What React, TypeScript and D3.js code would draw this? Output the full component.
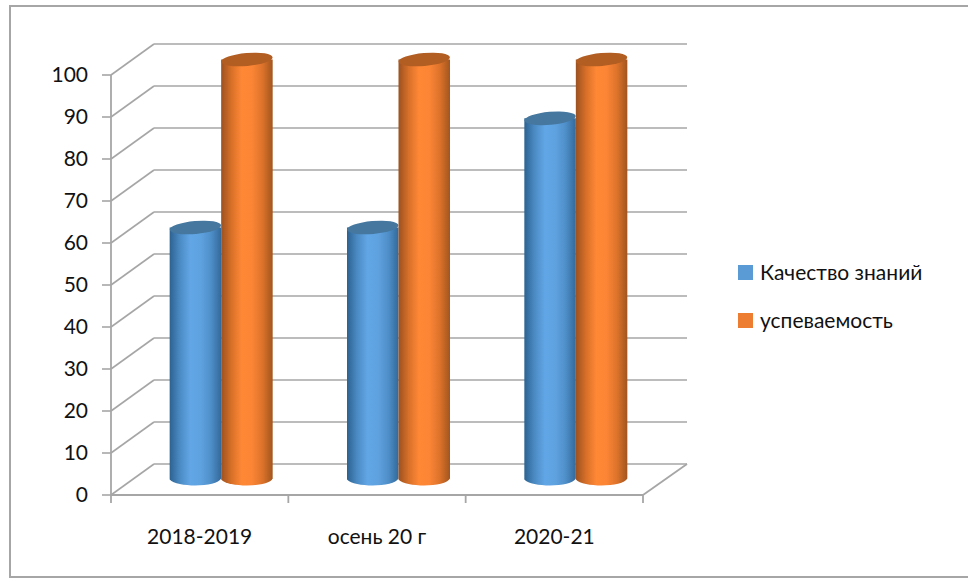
import React from "react";
import * as d3 from "d3";

const categories = ["2018-2019", "осень 20 г", "2020-21"];
const seriesNames = ["Качество знаний", "успеваемость"];
const quality = [60, 60, 86];
const progress = [100, 100, 100];
const yTicks = [0, 10, 20, 30, 40, 50, 60, 70, 80, 90, 100];

const seriesColors = ["#5b9bd5", "#ed7d31"];
const topColors = ["#44779f", "#b25d22"];
const ramps = [
    ["#2c6291", "#4b8bc4", "#62a6e6", "#5fa2e0", "#4f8fc9", "#33699a"],
    ["#9c5120", "#d87029", "#ff8836", "#fb8535", "#dd732b", "#a2551f"],
];

const WIDTH = 968;
const HEIGHT = 583;
const FONT = "Lato, 'Open Sans', sans-serif";

// front plane of the fake 3d box + the depth offset to the back wall
const frontLeft = 111;
const frontRight = 643;
const depthX = 43;
const depthY = 31;

const App: React.FC = () => {
    const y = d3.scaleLinear().domain([0, 100]).range([495, 75]);
    const x = d3.scaleBand<string>().domain(categories).range([frontLeft, frontRight]);
    const barW = 51.5;
    const ry = 6.5;
    const rx = barW / 2;

    const barX = (cat: string, s: number) =>
        (x(cat) as number) + x.bandwidth() / 2 + depthX / 2 - barW + s * barW;
    const barY = (v: number) => y(v) - depthY / 2;

    const values = [quality, progress];

    return (
        <svg
            width={WIDTH}
            height={HEIGHT}
            style={{ position: "absolute", left: 0, top: 0, background: "#fff" }}
        >
            <defs>
                {ramps.map((r, i) => (
                    <linearGradient key={i} id={`cyl${i}`} x1="0" x2="1" y1="0" y2="0">
                        {r.map((c, j) => (
                            <stop key={j} offset={j / (r.length - 1)} stopColor={c} />
                        ))}
                    </linearGradient>
                ))}
                <filter id="soft" x="-5%" y="-5%" width="110%" height="110%">
                    <feGaussianBlur stdDeviation="0.6" />
                </filter>
            </defs>

            {/* outer frame */}
            <rect x={10} y={6} width={WIDTH + 20} height={571} fill="none" stroke="#a6a6a6" stroke-width={2} strokeWidth={2} />

            <g filter="url(#soft)">
                {/* back wall grid + side wall diagonals */}
                {yTicks.map((t) => (
                    <g key={t} stroke="#a6a6a6" strokeWidth={1.6} fill="none">
                        <line x1={frontLeft + depthX} x2={687} y1={y(t) - depthY} y2={y(t) - depthY} />
                        <line x1={frontLeft} x2={frontLeft + depthX} y1={y(t)} y2={y(t) - depthY} />
                        <line x1={frontLeft - 9} x2={frontLeft} y1={y(t)} y2={y(t)} />
                    </g>
                ))}
                <g stroke="#a6a6a6" strokeWidth={1.8} fill="none">
                    <line x1={frontLeft} x2={frontLeft} y1={y(100)} y2={y(0) + 8} />
                    <line x1={frontLeft} x2={frontRight} y1={y(0)} y2={y(0)} />
                    <line x1={frontRight} x2={frontRight + depthX + 1} y1={y(0)} y2={y(0) - depthY} />
                    {categories.map((c) => (
                        <line
                            key={c}
                            x1={(x(c) as number) + x.bandwidth()}
                            x2={(x(c) as number) + x.bandwidth()}
                            y1={y(0)}
                            y2={y(0) + 8}
                        />
                    ))}
                </g>

                {/* cylinders */}
                {categories.map((c, i) =>
                    values.map((vals, s) => {
                        const left = barX(c, s);
                        const top = barY(vals[i]);
                        const bottom = barY(0);
                        const cx = left + rx;
                        const body = d3.path();
                        body.moveTo(left, top);
                        body.lineTo(left, bottom);
                        body.bezierCurveTo(left + 8, bottom + ry * 1.3, left + barW - 4, bottom + ry * 1.2, left + barW, bottom - 1);
                        body.lineTo(left + barW, top);
                        body.closePath();
                        return (
                            <g key={`${c}-${s}`}>
                                <path d={body.toString()} fill={`url(#cyl${s})`} />
                                <ellipse
                                    cx={cx}
                                    cy={top}
                                    rx={rx}
                                    ry={ry}
                                    fill={topColors[s]}
                                    transform={`rotate(-5 ${cx} ${top})`}
                                />
                            </g>
                        );
                    })
                )}
            </g>

            {/* y axis labels */}
            {yTicks.map((t) => (
                <text
                    key={t}
                    x={frontLeft - 23}
                    y={y(t) + 7}
                    textAnchor="end"
                    fontFamily={FONT}
                    fontSize={21}
                    fill="#111"
                >
                    {t}
                </text>
            ))}

            {/* x axis labels */}
            {categories.map((c) => (
                <text
                    key={c}
                    x={(x(c) as number) + x.bandwidth() / 2}
                    y={544}
                    textAnchor="middle"
                    fontFamily={FONT}
                    fontSize={21}
                    fill="#111"
                >
                    {c}
                </text>
            ))}

            {/* legend */}
            {seriesNames.map((name, i) => (
                <g key={name} transform={`translate(738,${265 + i * 48})`}>
                    <rect width={15} height={15} fill={seriesColors[i]} />
                    <text x={22} y={15} fontFamily={FONT} fontSize={21} fill="#111">
                        {name}
                    </text>
                </g>
            ))}
        </svg>
    );
};

export default App;
